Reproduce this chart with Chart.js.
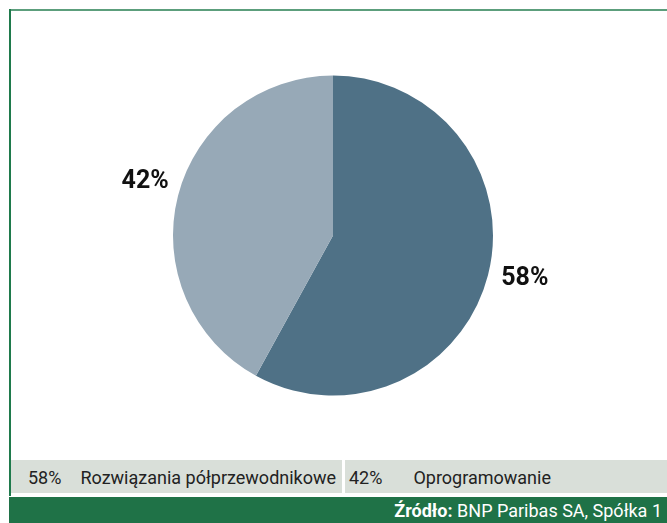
<!DOCTYPE html>
<html><head><meta charset="utf-8">
<script src="https://cdn.jsdelivr.net/npm/chart.js@4/dist/chart.umd.min.js"></script>
<style>
html,body{margin:0;padding:0;background:#fff;width:667px;height:523px;overflow:hidden;font-family:"Roboto","Open Sans",sans-serif;}
#topline{position:absolute;left:9px;top:9px;width:658px;height:2px;background:#5c9e7c;}
#leftline{position:absolute;left:9px;top:9px;width:2px;height:487px;background:#1f7a4c;}
#wrap{position:absolute;left:11px;top:11px;width:656px;height:449px;}
#legend{position:absolute;left:11px;top:460px;width:656px;height:33px;display:flex;}
.cell{background:#d9dfd9;height:33px;line-height:35px;font-size:18px;color:#222;white-space:nowrap;box-sizing:border-box;}
.cell .p{display:inline-block;}
#footer{position:absolute;left:9px;top:497px;width:658px;height:26px;background:#1f7247;color:#fff;font-size:18px;line-height:27px;text-align:right;box-sizing:border-box;padding-right:5px;white-space:nowrap;}
</style></head>
<body>
<div id="topline"></div>
<div id="leftline"></div>
<div id="wrap"><canvas id="c"></canvas></div>
<div id="legend"></div>
<div id="footer"><b>Źródło:</b> BNP Paribas SA, Spółka 1</div>
<script>
const categories = ["Rozwiązania półprzewodnikowe", "Oprogramowanie"];
const values = [58, 42];
const colors = ["#4f7186", "#97a9b7"];

// legend
const lg = document.getElementById('legend');
categories.forEach((c, i) => {
  const d = document.createElement('div');
  d.className = 'cell';
  d.style.paddingLeft = i === 0 ? '17px' : '4px';
  d.style.width = i === 0 ? '331px' : '322px';
  if (i === 1) d.style.marginLeft = '3px';
  d.innerHTML = '<span class="p" style="margin-right:' + (i === 0 ? 19 : 31) + 'px">' + values[i] + '%</span>' + c;
  lg.appendChild(d);
});

const outLabels = {
  id: 'outLabels',
  afterDatasetsDraw(chart) {
    const ctx = chart.ctx;
    const meta = chart.getDatasetMeta(0);
    ctx.save();
    ctx.font = 'bold 25px Roboto, sans-serif';
    ctx.fillStyle = '#111';
    ctx.textAlign = 'center';
    ctx.textBaseline = 'middle';
    meta.data.forEach((arc, i) => {
      const mid = (arc.startAngle + arc.endAngle) / 2;
      const r = 196;
      const x = arc.x + Math.cos(mid) * r + 2;
      const y = arc.y + Math.sin(mid) * r - 5;
      ctx.fillText(values[i] + '%', x, y);
    });
    ctx.restore();
  }
};

new Chart(document.getElementById('c'), {
  type: 'pie',
  data: { labels: categories, datasets: [{ data: values, backgroundColor: colors, borderWidth: 0 }] },
  options: {
    responsive: true, maintainAspectRatio: false, animation: false,
    radius: 160,
    layout: { padding: { left: 0, right: 12, top: 0, bottom: 0 } },
    plugins: { legend: { display: false }, tooltip: { enabled: false } }
  },
  plugins: [outLabels]
});
</script>
</body></html>
